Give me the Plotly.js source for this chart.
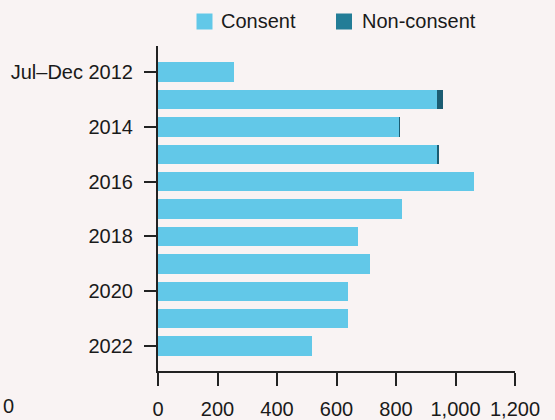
<!DOCTYPE html>
<html>
<head>
<meta charset="utf-8">
<script src="https://cdn.plot.ly/plotly-3.0.1.min.js"></script>
<style>html,body{margin:0;padding:0;background:#F9F3F3;}#chart{width:555px;height:420px;}</style>
</head>
<body>
<div id="chart"></div>
<script>
// Data
var categories = ["Jul–Dec 2012","2013","2014","2015","2016","2017","2018","2019","2020","2021","2022"];
var consent    = [255, 938, 811, 938, 1062, 820, 672, 713, 639, 639, 518];
var nonConsent = [0, 20, 2, 6, 0, 0, 0, 0, 0, 0, 0];
var seriesNames = ["Consent", "Non-consent"];
var tickLabels = ["Jul–Dec 2012","2014","2016","2018","2020","2022"];
var xTicks = [0, 200, 400, 600, 800, 1000, 1200];

// Layout constants
var W = 555, H = 420, ML = 158, MR = 40, MT = 46, MB = 49;
var PW = W - ML - MR, PH = H - MT - MB;
function px(x){ return (x - ML) / PW; }
function py(y){ return (H - MB - y) / PH; }

var FONT = "Arial, 'Liberation Sans', sans-serif";
var TXT = "#1a1a1a";
var C1 = "#62C8E8", C2 = "#1C5C72", C2L = "#237D97";

var traces = [
  {type:"bar", orientation:"h", name:seriesNames[0], y:categories, x:consent,
   marker:{color:C1, line:{width:0}}, hoverinfo:"x+y", showlegend:false},
  {type:"bar", orientation:"h", name:seriesNames[1], y:categories, x:nonConsent,
   marker:{color:C2, line:{width:0}}, hoverinfo:"x+y", showlegend:false}
];

var layout = {
  width: W, height: H,
  margin: {l:ML, r:MR, t:MT, b:MB, pad:0},
  paper_bgcolor: "#F9F3F3", plot_bgcolor: "#F9F3F3",
  barmode: "stack", bargap: 0.29,
  font: {family: FONT, size: 20, color: TXT},
  xaxis: {range:[0,1200], tickmode:"array", tickvals:xTicks, tickformat:",",
    showgrid:false, zeroline:false, showline:true, linecolor:"#222", linewidth:2,
    ticks:"outside", ticklen:13, tickwidth:2, tickcolor:"#222", ticklabelstandoff:6,
    tickfont:{family:FONT, size:20, color:TXT}, fixedrange:true},
  yaxis: {type:"category", categoryorder:"array", categoryarray:categories,
    range:[10.91,-0.95], tickmode:"array", tickvals:tickLabels, ticktext:tickLabels,
    showgrid:false, zeroline:false, showline:true, linecolor:"#222", linewidth:2,
    ticks:"outside", ticklen:12, tickwidth:2, tickcolor:"#222", ticklabelstandoff:7,
    tickfont:{family:FONT, size:20, color:TXT}, fixedrange:true},
  showlegend: false,
  shapes: [
    {type:"rect", xref:"paper", yref:"paper", x0:px(196.5), x1:px(212.5), y0:py(29.5), y1:py(13.5),
     fillcolor:C1, line:{width:0}},
    {type:"rect", xref:"paper", yref:"paper", x0:px(336), x1:px(352), y0:py(29.5), y1:py(13.5),
     fillcolor:C2L, line:{width:0}}
  ],
  annotations: [
    {xref:"paper", yref:"paper", x:px(219), y:py(21), xanchor:"left", yanchor:"middle",
     text:seriesNames[0], showarrow:false, font:{family:FONT, size:20, color:TXT}},
    {xref:"paper", yref:"paper", x:px(360), y:py(21), xanchor:"left", yanchor:"middle",
     text:seriesNames[1], showarrow:false, font:{family:FONT, size:20, color:TXT}},
    {xref:"paper", yref:"paper", x:px(1), y:py(419), xanchor:"left", yanchor:"bottom",
     text:"0", showarrow:false, font:{family:FONT, size:20, color:TXT}}
  ]
};

Plotly.newPlot("chart", traces, layout, {displayModeBar:false, staticPlot:true});
</script>
</body>
</html>
